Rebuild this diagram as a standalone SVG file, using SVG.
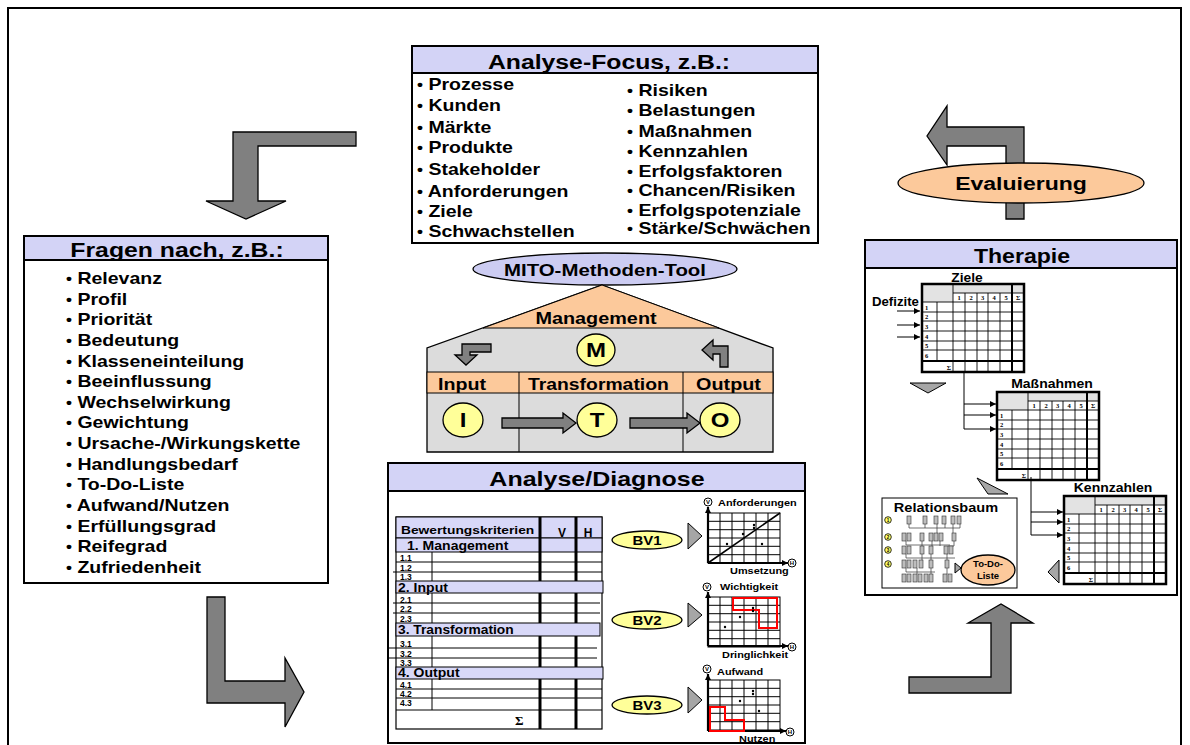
<svg xmlns="http://www.w3.org/2000/svg" xmlns:xlink="http://www.w3.org/1999/xlink" width="1190" height="745" viewBox="0 0 1190 745">
<style>
.t{font-family:'Liberation Sans',Arial,sans-serif;font-weight:bold;fill:#000}
.ser{font-family:'Liberation Serif','Times New Roman',serif;font-weight:bold;fill:#000}
.ttl{font-size:21px;text-anchor:middle}
.li{font-size:16px}
.bu{font-size:14px}
.box{fill:#fff;stroke:#000;stroke-width:2}
.hdr{fill:#d3d3f6;stroke:#000;stroke-width:2}
.lav{fill:#d8d8f8;stroke:#000;stroke-width:1}
.ga{fill:#808080;stroke:#000;stroke-width:1.3;stroke-linejoin:miter}
.gt{fill:#a6a6a6;stroke:#000;stroke-width:1}
.ln{stroke:#000;stroke-width:1;fill:none}
.thk{stroke:#000;stroke-width:3;fill:none}
.yel{fill:#ffff99;stroke:#000;stroke-width:1.3}
.org{fill:#fcc99b;stroke:#000;stroke-width:1.3}
.red{fill:none;stroke:#ff0000;stroke-width:2}
.dot{fill:#000}
</style>
<defs>
<marker id="ah" viewBox="0 0 10 10" refX="10" refY="5" markerWidth="8" markerHeight="6" markerUnits="userSpaceOnUse" orient="auto"><path d="M0,0 L10,5 L0,10 Z" fill="#000"/></marker>
<g id="mx">
<rect x="0" y="0" width="102" height="88" fill="#fff"/>
<rect x="0" y="0" width="31" height="18" fill="#e3e3e3"/>
<rect x="31" y="0" width="71" height="9" fill="#e3e3e3"/>
<g stroke="#000" stroke-width="0.9">
<line x1="31" y1="9" x2="102" y2="9"/>
<line x1="0" y1="18" x2="102" y2="18"/>
<line x1="0" y1="28" x2="102" y2="28"/>
<line x1="0" y1="37" x2="102" y2="37"/>
<line x1="0" y1="47" x2="102" y2="47"/>
<line x1="0" y1="57" x2="102" y2="57"/>
<line x1="0" y1="66" x2="102" y2="66"/>
<line x1="15" y1="18" x2="15" y2="77"/>
<line x1="31" y1="0" x2="31" y2="88"/>
<line x1="43" y1="9" x2="43" y2="88"/>
<line x1="55" y1="9" x2="55" y2="88"/>
<line x1="66" y1="9" x2="66" y2="88"/>
<line x1="78" y1="9" x2="78" y2="88"/>
</g>
<line x1="0" y1="77" x2="102" y2="77" stroke="#000" stroke-width="2"/>
<line x1="90" y1="0" x2="90" y2="88" stroke="#000" stroke-width="2"/>
<rect x="0" y="0" width="102" height="88" fill="none" stroke="#000" stroke-width="2.5"/>
<g class="ser" font-size="6.5">
<text x="37" y="16" text-anchor="middle">1</text><text x="49" y="16" text-anchor="middle">2</text><text x="60.5" y="16" text-anchor="middle">3</text><text x="72" y="16" text-anchor="middle">4</text><text x="84" y="16" text-anchor="middle">5</text><text x="96" y="16" text-anchor="middle">Σ</text>
<text x="3" y="26">1</text><text x="3" y="35">2</text><text x="3" y="45">3</text><text x="3" y="55">4</text><text x="3" y="64">5</text><text x="3" y="74">6</text>
<text x="29" y="86" text-anchor="end">Σ</text>
</g>
</g>
<g id="grid">
<rect x="0" y="0" width="72" height="50" fill="#fff" stroke="#000" stroke-width="1"/>
<g stroke="#000" stroke-width="1">
<line x1="12" y1="0" x2="12" y2="50"/><line x1="24" y1="0" x2="24" y2="50"/><line x1="36" y1="0" x2="36" y2="50"/><line x1="48" y1="0" x2="48" y2="50"/><line x1="60" y1="0" x2="60" y2="50"/>
<line x1="0" y1="8.3" x2="72" y2="8.3"/><line x1="0" y1="16.7" x2="72" y2="16.7"/><line x1="0" y1="25" x2="72" y2="25"/><line x1="0" y1="33.3" x2="72" y2="33.3"/><line x1="0" y1="41.7" x2="72" y2="41.7"/>
</g>
</g>
</defs>

<rect x="8" y="8" width="1173" height="760" fill="none" stroke="#000" stroke-width="2"/>

<g id="connectors">
<path class="ga" d="M356,132 L233,132 L233,201 L206,201 L246,219 L286,201 L258,201 L258,146 L356,146 Z"/>
<path class="ga" d="M207,597 L207,703 L285,703 L285,727 L304,692 L285,658 L285,681 L225,681 L225,597 Z"/>
<path class="ga" d="M909,677 L909,693 L1011,693 L1011,623 L1033,623 L1001,604 L968,623 L991,623 L991,677 Z"/>
<path class="ga" d="M1024,219 L1024,127 L947,127 L947,106 L927,136 L947,165 L947,146 L1006,146 L1006,219 Z"/>
</g>

<g id="evaluierung">
<ellipse cx="1021" cy="183" rx="123" ry="20" class="org"/>
<text class="t" font-size="18" transform="translate(1021,190) scale(1.28,1)" text-anchor="middle">Evaluierung</text>
</g>

<g id="analyse-focus">
<rect x="412" y="46" width="406" height="197" class="box"/>
<rect x="412" y="46" width="406" height="27" class="hdr"/>
<text class="t ttl" transform="translate(609,69) scale(1.18,1)">Analyse-Focus, z.B.:</text>
<g class="t li" transform="translate(417,0) scale(1.22,1)">
<text y="90"><tspan class="bu">•</tspan> Prozesse</text>
<text y="111"><tspan class="bu">•</tspan> Kunden</text>
<text y="133"><tspan class="bu">•</tspan> Märkte</text>
<text y="153"><tspan class="bu">•</tspan> Produkte</text>
<text y="175"><tspan class="bu">•</tspan> Stakeholder</text>
<text y="197"><tspan class="bu">•</tspan> Anforderungen</text>
<text y="217"><tspan class="bu">•</tspan> Ziele</text>
<text y="237"><tspan class="bu">•</tspan> Schwachstellen</text>
</g>
<g class="t li" transform="translate(627,0) scale(1.22,1)">
<text y="96"><tspan class="bu">•</tspan> Risiken</text>
<text y="116"><tspan class="bu">•</tspan> Belastungen</text>
<text y="137"><tspan class="bu">•</tspan> Maßnahmen</text>
<text y="157"><tspan class="bu">•</tspan> Kennzahlen</text>
<text y="177"><tspan class="bu">•</tspan> Erfolgsfaktoren</text>
<text y="196"><tspan class="bu">•</tspan> Chancen/Risiken</text>
<text y="216"><tspan class="bu">•</tspan> Erfolgspotenziale</text>
<text y="234"><tspan class="bu">•</tspan> Stärke/Schwächen</text>
</g>
</g>

<g id="fragen">
<rect x="24" y="236" width="304" height="347" class="box"/>
<rect x="24" y="236" width="304" height="24" class="hdr"/>
<text class="t ttl" transform="translate(177,257) scale(1.18,1)">Fragen nach, z.B.:</text>
<g class="t li" transform="translate(66,0) scale(1.22,1)">
<text y="284"><tspan class="bu">•</tspan> Relevanz</text>
<text y="304.6"><tspan class="bu">•</tspan> Profil</text>
<text y="325.3"><tspan class="bu">•</tspan> Priorität</text>
<text y="345.9"><tspan class="bu">•</tspan> Bedeutung</text>
<text y="366.6"><tspan class="bu">•</tspan> Klasseneinteilung</text>
<text y="387.2"><tspan class="bu">•</tspan> Beeinflussung</text>
<text y="407.8"><tspan class="bu">•</tspan> Wechselwirkung</text>
<text y="428.5"><tspan class="bu">•</tspan> Gewichtung</text>
<text y="449.1"><tspan class="bu">•</tspan> Ursache-/Wirkungskette</text>
<text y="469.8"><tspan class="bu">•</tspan> Handlungsbedarf</text>
<text y="490.4"><tspan class="bu">•</tspan> To-Do-Liste</text>
<text y="511"><tspan class="bu">•</tspan> Aufwand/Nutzen</text>
<text y="531.7"><tspan class="bu">•</tspan> Erfüllungsgrad</text>
<text y="552.3"><tspan class="bu">•</tspan> Reifegrad</text>
<text y="573"><tspan class="bu">•</tspan> Zufriedenheit</text>
</g>
</g>

<g id="mito">
<ellipse cx="605" cy="269" rx="132" ry="16" fill="#ccccf2" stroke="#000" stroke-width="1.3"/>
<text class="t" font-size="17" text-anchor="middle" transform="translate(605,276) scale(1.2,1)">MITO-Methoden-Tool</text>
<path d="M602,285 L773,348 L773,452 L427,452 L427,348 Z" fill="#dcdcdc" stroke="#000" stroke-width="1.3"/>
<path d="M602,285 L719,328 L483,328 Z" fill="#fcc99b" stroke="#000" stroke-width="1"/>
<rect x="427" y="372" width="346" height="21" fill="#fcc99b" stroke="#000" stroke-width="1"/>
<line x1="519" y1="372" x2="519" y2="452" class="ln"/>
<line x1="683" y1="372" x2="683" y2="452" class="ln"/>
<text class="t" font-size="16" text-anchor="middle" transform="translate(596,324) scale(1.24,1)">Management</text>
<text class="t" font-size="16" transform="translate(438,390) scale(1.23,1)">Input</text>
<text class="t" font-size="16" transform="translate(528,390) scale(1.21,1)">Transformation</text>
<text class="t" font-size="16" transform="translate(696,390) scale(1.24,1)">Output</text>
<path class="ga" d="M491,344 L462,344 L462,355 L455,355 L466,365 L477,355 L470,355 L470,352 L491,352 Z"/>
<path class="ga" d="M728,367 L728,346 L713,346 L713,340 L702,350 L713,360 L713,354 L720,354 L720,367 Z"/>
<ellipse cx="596" cy="350" rx="19" ry="16" class="yel"/>
<text class="t" font-size="20" text-anchor="middle" transform="translate(596,357) scale(1.2,1)">M</text>
<ellipse cx="463" cy="420" rx="20" ry="17" class="yel"/>
<text class="t" font-size="20" text-anchor="middle" transform="translate(463,427) scale(1.2,1)">I</text>
<ellipse cx="597" cy="420" rx="20" ry="17" class="yel"/>
<text class="t" font-size="20" text-anchor="middle" transform="translate(597,427) scale(1.2,1)">T</text>
<ellipse cx="720" cy="420" rx="20" ry="17" class="yel"/>
<text class="t" font-size="20" text-anchor="middle" transform="translate(720,427) scale(1.2,1)">O</text>
<path class="ga" d="M502,418 L563,418 L563,413 L576,423 L563,433 L563,428 L502,428 Z"/>
<path class="ga" d="M630,418 L687,418 L687,413 L700,423 L687,433 L687,428 L630,428 Z"/>
</g>

<g id="analyse-diagnose">
<rect x="388" y="463" width="417" height="280" class="box"/>
<rect x="388" y="463" width="417" height="28" class="hdr"/>
<text class="t ttl" transform="translate(597,486) scale(1.19,1)">Analyse/Diagnose</text>
<g id="table">
<rect x="396" y="517" width="206" height="212" fill="#fff" stroke="#000" stroke-width="1.2"/>
<rect x="396" y="517" width="206" height="21" class="lav"/>
<rect x="396" y="538" width="206" height="14" class="lav"/>
<g class="ln">
<line x1="396" y1="562" x2="602" y2="562"/><line x1="393" y1="572" x2="602" y2="572"/>
<line x1="393" y1="603" x2="600" y2="603"/><line x1="393" y1="613" x2="600" y2="613"/>
<line x1="388" y1="648" x2="597" y2="648"/><line x1="388" y1="658" x2="597" y2="658"/>
<line x1="396" y1="689" x2="602" y2="689"/><line x1="396" y1="698" x2="602" y2="698"/>
<line x1="396" y1="710" x2="602" y2="710"/>
<line x1="432" y1="552" x2="432" y2="581"/><line x1="432" y1="593" x2="432" y2="623"/>
<line x1="432" y1="636" x2="432" y2="667"/><line x1="432" y1="679" x2="432" y2="710"/>
</g>
<line x1="540" y1="517" x2="540" y2="729" class="thk"/>
<line x1="576" y1="517" x2="576" y2="729" class="thk"/>
<rect x="396" y="581" width="207" height="12" class="lav"/>
<rect x="396" y="623" width="204" height="13" class="lav"/>
<rect x="396" y="667" width="207" height="12" class="lav"/>
<text class="t" font-size="11.5" transform="translate(401,534) scale(1.2,1)">Bewertungskriterien</text>
<text class="t" font-size="12" text-anchor="middle" x="562" y="537">V</text>
<text class="t" font-size="12" text-anchor="middle" x="588" y="537">H</text>
<text class="t" font-size="12" transform="translate(407,550) scale(1.17,1)">1. Management</text>
<text class="t" font-size="12" transform="translate(398,592) scale(1.17,1)">2. Input</text>
<text class="t" font-size="12" transform="translate(398,634) scale(1.15,1)">3. Transformation</text>
<text class="t" font-size="12" transform="translate(398,677) scale(1.17,1)">4. Output</text>
<g class="t" font-size="8.5">
<text x="400" y="561">1.1</text><text x="400" y="571">1.2</text><text x="400" y="580">1.3</text>
<text x="400" y="602.5">2.1</text><text x="400" y="612">2.2</text><text x="400" y="622">2.3</text>
<text x="400" y="647">3.1</text><text x="400" y="657">3.2</text><text x="400" y="666">3.3</text>
<text x="400" y="688">4.1</text><text x="400" y="697">4.2</text><text x="400" y="706">4.3</text>
</g>
<text class="ser" font-size="13" x="515" y="725">Σ</text>
</g>
<g id="bv">
<ellipse cx="647" cy="540" rx="35" ry="9" class="yel"/>
<text class="t" font-size="13" text-anchor="middle" transform="translate(647,545) scale(1.15,1)">BV1</text>
<ellipse cx="647" cy="620" rx="35" ry="9" class="yel"/>
<text class="t" font-size="13" text-anchor="middle" transform="translate(647,625) scale(1.15,1)">BV2</text>
<ellipse cx="647" cy="705" rx="35" ry="9" class="yel"/>
<text class="t" font-size="13" text-anchor="middle" transform="translate(647,710) scale(1.15,1)">BV3</text>
<path class="gt" d="M688,523 L702,536 L688,549 Z"/>
<path class="gt" d="M688,603 L702,615 L688,627 Z"/>
<path class="gt" d="M688,687 L702,700 L688,713 Z"/>
</g>
<g id="graph1">
<use href="#grid" x="708" y="513"/>
<line x1="708" y1="563" x2="780" y2="513" stroke="#000" stroke-width="1.6"/>
<line x1="708" y1="563" x2="708" y2="507" stroke="#000" stroke-width="2.2" marker-end="url(#ah)"/>
<line x1="708" y1="563" x2="788" y2="563" stroke="#000" stroke-width="2.2" marker-end="url(#ah)"/>
<circle cx="727" cy="544" r="1.2" class="dot"/><circle cx="743" cy="534" r="1.2" class="dot"/><circle cx="754" cy="525" r="1.2" class="dot"/><circle cx="754" cy="528" r="1.2" class="dot"/><circle cx="762" cy="544" r="1.2" class="dot"/>
<circle cx="708" cy="502" r="4" fill="#fff" stroke="#000" stroke-width="1"/><text class="t" font-size="6" text-anchor="middle" x="708" y="504.2">V</text>
<circle cx="792" cy="563" r="4" fill="#fff" stroke="#000" stroke-width="1"/><text class="t" font-size="6" text-anchor="middle" x="792" y="565.2">H</text>
<text class="t" font-size="9.5" transform="translate(718,506) scale(1.15,1)">Anforderungen</text>
<text class="t" font-size="9.5" transform="translate(730,574) scale(1.15,1)">Umsetzung</text>
</g>
<g id="graph2">
<use href="#grid" x="708" y="597"/>
<line x1="708" y1="646" x2="708" y2="592" stroke="#000" stroke-width="2.2" marker-end="url(#ah)"/>
<line x1="708" y1="646" x2="788" y2="646" stroke="#000" stroke-width="2.2" marker-end="url(#ah)"/>
<path class="red" d="M733,598 L777,598 L777,628 L759,628 L759,610 L733,610 Z"/>
<circle cx="725" cy="627" r="1.2" class="dot"/><circle cx="740" cy="617" r="1.2" class="dot"/><circle cx="753" cy="608" r="1.2" class="dot"/><circle cx="753" cy="611" r="1.2" class="dot"/>
<circle cx="707" cy="587" r="4" fill="#fff" stroke="#000" stroke-width="1"/><text class="t" font-size="6" text-anchor="middle" x="707" y="589.2">V</text>
<circle cx="792" cy="647" r="4" fill="#fff" stroke="#000" stroke-width="1"/><text class="t" font-size="6" text-anchor="middle" x="792" y="649.2">H</text>
<text class="t" font-size="9.5" transform="translate(720,590) scale(1.15,1)">Wichtigkeit</text>
<text class="t" font-size="9.5" transform="translate(722,658) scale(1.15,1)">Dringlichkeit</text>
</g>
<g id="graph3">
<use href="#grid" x="708" y="680"/>
<line x1="708" y1="731" x2="708" y2="674" stroke="#000" stroke-width="2.2" marker-end="url(#ah)"/>
<line x1="708" y1="731" x2="786" y2="731" stroke="#000" stroke-width="2.2" marker-end="url(#ah)"/>
<path class="red" d="M710,707 L725,707 L725,720 L744,720 L744,731 L710,731 Z"/>
<circle cx="753" cy="691" r="1.2" class="dot"/><circle cx="753" cy="694" r="1.2" class="dot"/><circle cx="740" cy="701" r="1.2" class="dot"/><circle cx="759" cy="711" r="1.2" class="dot"/>
<circle cx="707" cy="669" r="4" fill="#fff" stroke="#000" stroke-width="1"/><text class="t" font-size="6" text-anchor="middle" x="707" y="671.2">V</text>
<circle cx="790" cy="732" r="4" fill="#fff" stroke="#000" stroke-width="1"/><text class="t" font-size="6" text-anchor="middle" x="790" y="734.2">H</text>
<text class="t" font-size="9.5" transform="translate(717,675) scale(1.15,1)">Aufwand</text>
<text class="t" font-size="9.5" transform="translate(739,742) scale(1.15,1)">Nutzen</text>
</g>
</g>

<g id="therapie">
<rect x="865" y="240" width="312" height="355" class="box"/>
<rect x="865" y="240" width="312" height="28" class="hdr"/>
<text class="t ttl" transform="translate(1022,263) scale(1.1,1)">Therapie</text>
<text class="t" font-size="12" text-anchor="middle" transform="translate(967,282) scale(1.15,1)">Ziele</text>
<use href="#mx" x="922" y="284"/>
<text class="t" font-size="12" transform="translate(872,306) scale(1.1,1)">Defizite</text>
<g class="ln">
<line x1="897" y1="311" x2="920" y2="311" marker-end="url(#ah)"/>
<line x1="897" y1="325" x2="920" y2="325" marker-end="url(#ah)"/>
<line x1="897" y1="337" x2="920" y2="337" marker-end="url(#ah)"/>
</g>
<path class="gt" d="M910,383 L946,383 L928,393 Z"/>
<text class="t" font-size="12.5" text-anchor="middle" transform="translate(1052,388) scale(1.12,1)">Maßnahmen</text>
<use href="#mx" x="997" y="392"/>
<g class="ln">
<line x1="964" y1="372" x2="964" y2="429"/>
<line x1="964" y1="404" x2="996" y2="404" marker-end="url(#ah)"/>
<line x1="964" y1="415" x2="996" y2="415" marker-end="url(#ah)"/>
<line x1="964" y1="429" x2="996" y2="429" marker-end="url(#ah)"/>
</g>
<path class="gt" d="M977,478 L1008,494 L988,494 Z"/>
<text class="t" font-size="12.5" text-anchor="middle" transform="translate(1113,492) scale(1.12,1)">Kennzahlen</text>
<use href="#mx" x="1064" y="496"/>
<g class="ln">
<line x1="1031" y1="477" x2="1031" y2="535"/>
<line x1="1031" y1="512" x2="1063" y2="512" marker-end="url(#ah)"/>
<line x1="1031" y1="522" x2="1063" y2="522" marker-end="url(#ah)"/>
<line x1="1031" y1="535" x2="1063" y2="535" marker-end="url(#ah)"/>
</g>
<path class="gt" d="M1059,560 L1059,583 L1048,572 Z"/>
<g id="relationsbaum">
<rect x="882" y="498" width="135" height="90" fill="#fff" stroke="#000" stroke-width="1"/>
<text class="t" font-size="13" text-anchor="middle" transform="translate(946,512) scale(1.12,1)">Relationsbaum</text>
<g fill="#ffff66" stroke="#000" stroke-width="0.8">
<circle cx="888" cy="520" r="3.3"/><circle cx="888" cy="537" r="3.3"/><circle cx="888" cy="550" r="3.3"/><circle cx="888" cy="564" r="3.3"/>
</g>
<g class="t" font-size="4.5" text-anchor="middle">
<text x="888" y="521.6">1</text><text x="888" y="538.6">2</text><text x="888" y="551.6">3</text><text x="888" y="565.6">4</text>
</g>
<g stroke="#333" stroke-width="0.7" fill="none">
<path d="M909,524 V528 H960 M925,524 V528 M937,524 V533 M945,524 V528 M953,524 V533 M960,524 V528"/>
<path d="M906,541 V545 H950 M922,541 V546 M932,541 V546 M940,541 V546 M954,541 V546 H948"/>
<path d="M906,554 V558 H955 M922,554 V560 M931,554 V560 M947,554 V560"/>
<path d="M906,568 V572 H935 M917,568 V574 M931,568 V574 M947,568 V574"/>
</g>
<g fill="#bdbdbd" stroke="#333" stroke-width="0.6">
<rect x="907" y="516" width="4" height="8"/><rect x="923" y="516" width="4" height="8"/><rect x="934" y="516" width="4" height="8"/><rect x="942" y="516" width="4" height="8"/><rect x="951" y="516" width="4" height="8"/><rect x="957" y="516" width="4" height="8"/>
<rect x="902" y="533" width="4" height="8"/><rect x="907" y="533" width="4" height="8"/><rect x="920" y="533" width="4" height="8"/><rect x="929" y="533" width="4" height="8"/><rect x="934" y="533" width="4" height="8"/><rect x="939" y="533" width="4" height="8"/><rect x="952" y="533" width="4" height="8"/>
<rect x="902" y="546" width="4" height="8"/><rect x="907" y="546" width="4" height="8"/><rect x="920" y="546" width="4" height="8"/><rect x="929" y="546" width="4" height="8"/><rect x="944" y="546" width="4" height="8"/><rect x="949" y="546" width="4" height="8"/>
<rect x="902" y="560" width="4" height="8"/><rect x="907" y="560" width="4" height="8"/><rect x="913" y="560" width="4" height="8"/><rect x="919" y="560" width="4" height="8"/><rect x="929" y="560" width="4" height="8"/><rect x="945" y="560" width="4" height="8"/>
<rect x="902" y="574" width="4" height="8"/><rect x="907" y="574" width="4" height="8"/><rect x="913" y="574" width="4" height="8"/><rect x="918" y="574" width="4" height="8"/><rect x="924" y="574" width="4" height="8"/><rect x="929" y="574" width="4" height="8"/><rect x="943" y="574" width="4" height="8"/><rect x="948" y="574" width="4" height="8"/>
</g>
<path class="gt" d="M955,563 L961,568 L955,573 Z"/>
<ellipse cx="988" cy="570" rx="27" ry="15" class="org"/>
<text class="t" font-size="9.5" text-anchor="middle" x="988" y="567">To-Do-</text>
<text class="t" font-size="9.5" text-anchor="middle" x="988" y="579">Liste</text>
</g>
</g>
</svg>
